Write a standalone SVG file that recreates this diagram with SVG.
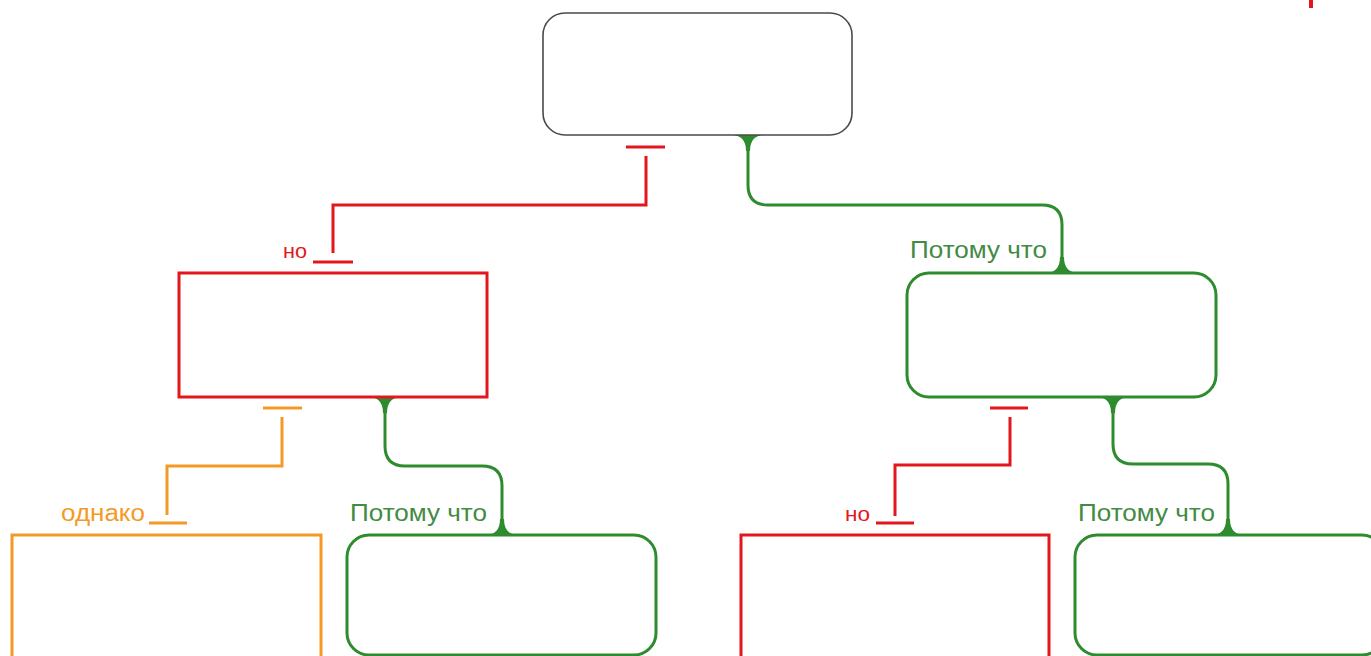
<svg xmlns="http://www.w3.org/2000/svg" width="1371" height="656" viewBox="0 0 1371 656">
<style>
.box{fill:#fff;stroke-width:3}
.g{stroke:#2e8b2e}
.r{stroke:#e3161d}
.o{stroke:#f39a26}
.k{stroke:#4a4a4a;stroke-width:1.6}
.ln{fill:none;stroke-width:3;stroke-linejoin:miter}
.fil{fill:#2e8b2e}
text{font-family:"Liberation Sans",Arial,sans-serif}
.tg{fill:#438a43;font-size:23px}
.tr{fill:#e3161d;font-size:20px}
.to{fill:#f39a26;font-size:23px}
</style>
<rect width="1371" height="656" fill="#fff"/>
<g id="connectors">
  <path class="ln r" d="M626,147 H665 M646,156 V205 H333 V253 M313,262 H353"/>
  <path class="ln g" d="M748,135 V185 Q748,205 768,205 H1042 Q1062,205 1062,225 V273"/>
  <path class="fil" d="M731,135 Q746,135 746,151 L750,151 Q750,135 765,135 Z"/>
  <path class="fil" d="M1045,273 Q1060,273 1060,257 L1064,257 Q1064,273 1079,273 Z"/>
  <path class="ln o" d="M263,408 H302 M282,417 V466 H167 V515 M149,523 H187"/>
  <path class="ln g" d="M385,397 V446 Q385,466 405,466 H482 Q502,466 502,486 V535"/>
  <path class="fil" d="M368,397 Q383,397 383,413 L387,413 Q387,397 402,397 Z"/>
  <path class="fil" d="M485,535 Q500,535 500,519 L504,519 Q504,535 519,535 Z"/>
  <path class="ln r" d="M990,408 H1028 M1010,417 V465 H895 V516 M876,523 H914"/>
  <path class="ln g" d="M1113,397 V444 Q1113,464 1133,464 H1208 Q1228,464 1228,484 V535"/>
  <path class="fil" d="M1096,397 Q1111,397 1111,413 L1115,413 Q1115,397 1130,397 Z"/>
  <path class="fil" d="M1211,535 Q1226,535 1226,519 L1230,519 Q1230,535 1245,535 Z"/>
</g>
<g id="labels">
  <text class="tr" x="283" y="258" textLength="24" lengthAdjust="spacingAndGlyphs">но</text>
  <text class="tg" x="910" y="258" textLength="137" lengthAdjust="spacingAndGlyphs">Потому что</text>
  <text class="to" x="61" y="521" textLength="84" lengthAdjust="spacingAndGlyphs">однако</text>
  <text class="tg" x="350" y="521" textLength="137" lengthAdjust="spacingAndGlyphs">Потому что</text>
  <text class="tr" x="845" y="521" textLength="25" lengthAdjust="spacingAndGlyphs">но</text>
  <text class="tg" x="1078" y="521" textLength="137" lengthAdjust="spacingAndGlyphs">Потому что</text>
</g>
<g id="node-top"><rect class="box k" x="543" y="13" width="309" height="122" rx="22"/></g>
<g id="node-left-mid"><rect class="box r" x="179" y="273" width="308" height="124"/></g>
<g id="node-right-mid"><rect class="box g" x="907" y="273" width="309" height="124" rx="22"/></g>
<g id="node-bottom-1"><rect class="box o" x="12" y="535" width="309" height="130"/></g>
<g id="node-bottom-2"><rect class="box g" x="347" y="535" width="309" height="120" rx="22"/></g>
<g id="node-bottom-3"><rect class="box r" x="741" y="535" width="308" height="130"/></g>
<g id="node-bottom-4"><rect class="box g" x="1075" y="535" width="309" height="120" rx="22"/></g>
<g id="corner-mark"><rect x="1309" y="0" width="4" height="8" fill="#e3161d"/></g>
</svg>
